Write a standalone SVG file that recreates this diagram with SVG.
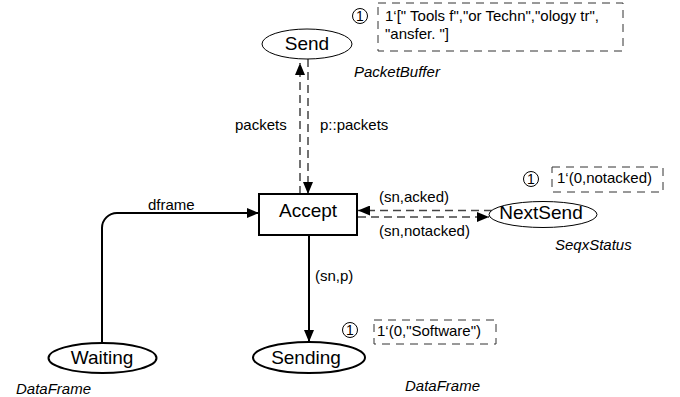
<svg xmlns="http://www.w3.org/2000/svg" width="680" height="397" viewBox="0 0 680 397">
<style>
text{font-family:"Liberation Sans",Arial,sans-serif;fill:#000}
.nl{font-size:19px;text-anchor:middle}
.lb{font-size:15px}
.ty{font-size:15px;font-style:italic}
.thin{fill:#fff;stroke:#000;stroke-width:1}
.thick{fill:#fff;stroke:#000;stroke-width:2}
.ann{fill:none;stroke:#333;stroke-width:1;stroke-dasharray:8 6}
.cnt{fill:#fff;stroke:#000;stroke-width:1}
.cn{font-size:14px;text-anchor:middle}
.solid{fill:none;stroke:#000;stroke-width:2}
.dash{fill:none;stroke:#444;stroke-width:1.5;stroke-dasharray:8 5}
</style>
<defs>
<marker id="ah" viewBox="0 0 12 10" refX="12" refY="5" markerWidth="12" markerHeight="10" markerUnits="userSpaceOnUse" orient="auto">
<path d="M0,0 L12,5 L0,10 z" fill="#000"/>
</marker>
</defs>
<g id="connectors">
<path class="dash" d="M300,194 L300,63" marker-end="url(#ah)"/>
<path class="dash" d="M308,59 L308,194" marker-end="url(#ah)"/>
<path class="dash" d="M492,210.5 L358,210.5" marker-end="url(#ah)"/>
<path class="dash" d="M358,217 L489,217" marker-end="url(#ah)"/>
<path class="solid" d="M102,343 L102,228 A15,15 0 0 1 117,213 L259,213" marker-end="url(#ah)"/>
<path class="solid" d="M309,236 L309,342" marker-end="url(#ah)"/>
<text class="lb" x="235" y="130">packets</text>
<text class="lb" x="320" y="130">p::packets</text>
<text class="lb" x="379" y="202">(sn,acked)</text>
<text class="lb" x="379" y="236">(sn,notacked)</text>
<text class="lb" x="148" y="210">dframe</text>
<text class="lb" x="315" y="281">(sn,p)</text>
</g>
<g id="Send">
<ellipse class="thin" cx="307" cy="44" rx="45" ry="15"/>
<text class="nl" x="307" y="50">Send</text>
<text class="ty" x="354" y="77">PacketBuffer</text>
<circle class="cnt" cx="360" cy="16" r="7.5"/>
<text class="cn" x="360" y="21">1</text>
<rect class="ann" x="378" y="3" width="245" height="48"/>
<text class="lb" x="385" y="21">1‘[" Tools f","or Techn","ology tr",</text>
<text class="lb" x="385" y="39">"ansfer. "]</text>
</g>
<g id="Accept">
<rect class="thick" x="259" y="194" width="98" height="41"/>
<text class="nl" x="308" y="217">Accept</text>
</g>
<g id="NextSend">
<ellipse class="thin" cx="543" cy="214.5" rx="54" ry="13"/>
<text class="nl" x="541" y="218.5">NextSend</text>
<text class="ty" x="555" y="250">SeqxStatus</text>
<circle class="cnt" cx="531" cy="179" r="7.5"/>
<text class="cn" x="531" y="184">1</text>
<rect class="ann" x="552" y="167" width="111" height="25"/>
<text class="lb" x="557" y="183">1‘(0,notacked)</text>
</g>
<g id="Waiting">
<ellipse class="thick" cx="102.5" cy="358" rx="54" ry="15"/>
<text class="nl" x="102" y="364">Waiting</text>
<text class="ty" x="16" y="394">DataFrame</text>
</g>
<g id="Sending">
<ellipse class="thick" cx="309" cy="357.5" rx="56" ry="15.5"/>
<text class="nl" x="306" y="364">Sending</text>
<text class="ty" x="405" y="391">DataFrame</text>
<circle class="cnt" cx="350" cy="330" r="7.5"/>
<text class="cn" x="350" y="335">1</text>
<rect class="ann" x="374" y="320" width="122" height="24"/>
<text class="lb" x="377" y="336">1‘(0,"Software")</text>
</g>
</svg>
